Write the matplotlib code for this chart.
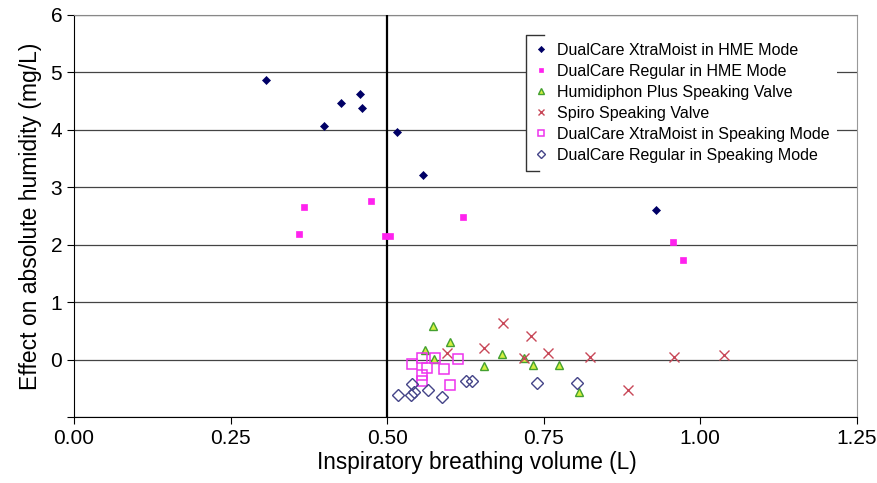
import matplotlib
matplotlib.use('Agg')
import matplotlib.pyplot as plt
from matplotlib.lines import Line2D

plt.rcParams['font.family'] = ['Liberation Sans', 'DejaVu Sans']

# DualCare XtraMoist in HME Mode
xm_hme_x = [0.307, 0.427, 0.457, 0.460, 0.399, 0.515, 0.558, 0.930]
xm_hme_y = [4.87, 4.46, 4.62, 4.38, 4.07, 3.96, 3.21, 2.60]

# DualCare Regular in HME Mode
reg_hme_x = [0.368, 0.360, 0.474, 0.496, 0.505, 0.621, 0.957, 0.972]
reg_hme_y = [2.66, 2.19, 2.76, 2.16, 2.16, 2.49, 2.05, 1.74]

# Humidiphon Plus Speaking Valve
hum_x = [0.573, 0.600, 0.561, 0.575, 0.683, 0.655, 0.718, 0.733, 0.774, 0.807]
hum_y = [0.59, 0.31, 0.17, 0.01, 0.10, -0.12, 0.03, -0.10, -0.10, -0.56]

# Spiro Speaking Valve
spiro_x = [0.685, 0.730, 0.654, 0.595, 0.757, 0.718, 0.824, 0.958, 1.038, 0.885]
spiro_y = [0.64, 0.41, 0.20, 0.11, 0.11, 0.03, 0.05, 0.04, 0.08, -0.53]

# DualCare XtraMoist in Speaking Mode
xm_sp_x = [0.540, 0.555, 0.577, 0.613, 0.564, 0.591, 0.555, 0.556, 0.600]
xm_sp_y = [-0.08, 0.02, 0.02, 0.01, -0.14, -0.16, -0.26, -0.37, -0.45]

# DualCare Regular in Speaking Mode
reg_sp_x = [0.540, 0.518, 0.538, 0.543, 0.565, 0.588, 0.626, 0.636, 0.740, 0.803]
reg_sp_y = [-0.42, -0.61, -0.62, -0.57, -0.53, -0.65, -0.38, -0.37, -0.40, -0.41]

xticks = [0.00, 0.25, 0.50, 0.75, 1.00, 1.25]
yticks = [-1, 0, 1, 2, 3, 4, 5, 6]
ytick_labels = ['', '0', '1', '2', '3', '4', '5', '6']

fig = plt.figure(figsize=(8.77, 4.83), dpi=100)
ax = fig.add_axes([0.0844, 0.1366, 0.8926, 0.8324])

ax.plot(xm_hme_x, xm_hme_y, 'D', color='#000066', markersize=4.5, markeredgewidth=0.5,
        label='DualCare XtraMoist in HME Mode', zorder=4)
ax.plot(reg_hme_x, reg_hme_y, 's', color='#ff22ee', markersize=5, markeredgewidth=0.5,
        label='DualCare Regular in HME Mode', zorder=4)
ax.plot(hum_x, hum_y, '^', markerfacecolor='#d4f040', markeredgecolor='#44a030', markersize=6,
        markeredgewidth=1.0, linestyle='none', label='Humidiphon Plus Speaking Valve', zorder=4)
ax.plot(spiro_x, spiro_y, 'x', color='#c84858', markersize=7, markeredgewidth=1.0,
        linestyle='none', label='Spiro Speaking Valve', zorder=4)
ax.plot(xm_sp_x, xm_sp_y, 's', markerfacecolor='none', markeredgecolor='#ee33ee', markersize=7,
        markeredgewidth=1.1, linestyle='none', label='DualCare XtraMoist in Speaking Mode', zorder=4)
ax.plot(reg_sp_x, reg_sp_y, 'D', markerfacecolor='none', markeredgecolor='#444488', markersize=6,
        markeredgewidth=1.0, linestyle='none', label='DualCare Regular in Speaking Mode', zorder=4)

ax.axvline(0.5, color='black', linewidth=1.6, zorder=3)

ax.set_xlim(0, 1.25)
ax.set_ylim(-1, 6)
ax.set_xticks(xticks)
ax.set_xticklabels(['%.2f' % v for v in xticks], fontsize=15)
ax.set_yticks(yticks)
ax.set_yticklabels(ytick_labels, fontsize=15)
ax.tick_params(direction='out', length=5, width=0.8, colors='black')

ax.set_axisbelow(True)
ax.yaxis.grid(True, color='#444444', linewidth=0.9)

ax.spines['left'].set_color('black')
ax.spines['bottom'].set_color('black')
ax.spines['top'].set_color('#888888')
ax.spines['right'].set_color('#999999')

ax.set_xlabel('Inspiratory breathing volume (L)', fontsize=16.3, labelpad=5)
ax.xaxis.set_label_coords(0.515, -0.085)
ax.set_ylabel('Effect on absolute humidity (mg/L)', fontsize=16.5, labelpad=6)

leg = ax.legend(loc='upper left', bbox_to_anchor=(0.578, 0.95), fontsize=11.5,
                frameon=True, facecolor='white', edgecolor='none', framealpha=1,
                fancybox=False, markerscale=0.7, handlelength=0.8, handletextpad=0.6,
                labelspacing=0.37, borderpad=0.5, borderaxespad=0)
leg.set_zorder(5)

# bracket on the left side of the legend box
fig.canvas.draw()
bb = leg.get_window_extent().transformed(fig.transFigure.inverted())
w = 0.02
fig.add_artist(Line2D([bb.x0 + w, bb.x0, bb.x0, bb.x0 + w * 0.7],
                      [bb.y1, bb.y1, bb.y0, bb.y0], color='#333333', linewidth=1.0))

fig.savefig('out.png', dpi=100)
